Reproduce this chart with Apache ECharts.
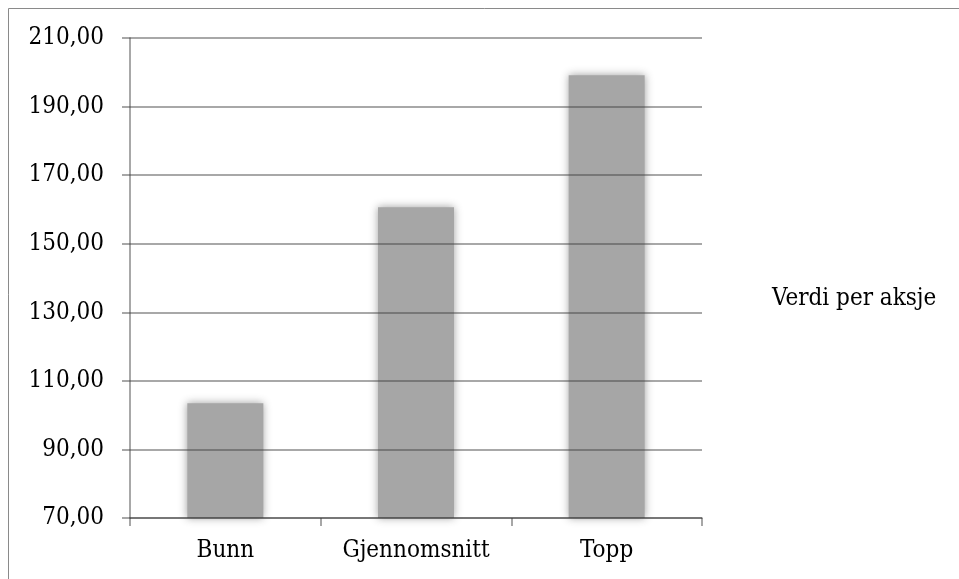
<!DOCTYPE html>
<html>
<head>
<meta charset="utf-8">
<script src="https://cdn.jsdelivr.net/npm/echarts@6/dist/echarts.min.js"></script>
<style>
  html, body { margin: 0; padding: 0; background: #ffffff; }
  #chart { width: 959px; height: 579px; }
</style>
</head>
<body>
<div id="chart"></div>
<script>
// Share value per category
const categories = ['Bunn', 'Gjennomsnitt', 'Topp'];
const values = [103.5, 160.6, 199.1];
const seriesName = 'Verdi per aksje';
const yMin = 70, yMax = 210, yStep = 20;

const fmt = v => v.toFixed(2).replace('.', ',');
const font = '"DejaVu Serif Condensed", "Liberation Serif", serif';
const fontSize = 24;
const lineColor = 'rgba(60,60,60,0.6)';

const chart = echarts.init(document.getElementById('chart'), null, { renderer: 'canvas' });
chart.setOption({
  animation: false,
  backgroundColor: '#ffffff',
  textStyle: { fontFamily: font },
  graphic: [{
    type: 'rect',
    shape: { x: 8.5, y: 8.5, width: 960, height: 600 },
    style: { fill: 'none', stroke: '#8a8a8a', lineWidth: 1 },
    silent: true
  }],
  grid: { left: 130, right: 257, top: 38, bottom: 61, containLabel: false },
  legend: {
    data: [seriesName],
    left: 767, top: 287,
    padding: 0,
    itemWidth: 0, itemHeight: 0,
    itemStyle: { opacity: 0 },
    textStyle: { fontFamily: font, fontSize: fontSize, color: '#000' }
  },
  xAxis: {
    type: 'category',
    data: categories,
    axisLine: { lineStyle: { color: lineColor, width: 1.5 } },
    axisTick: { show: true, interval: 0, length: 8, lineStyle: { color: lineColor, width: 1.5 } },
    axisLabel: { interval: 0, margin: 21, fontFamily: font, fontSize: fontSize, color: '#000' },
    splitLine: { show: false },
    z: 5
  },
  yAxis: {
    type: 'value',
    min: yMin, max: yMax, interval: yStep,
    axisLine: { show: true, lineStyle: { color: lineColor, width: 1.5 } },
    axisTick: { show: true, length: 8, lineStyle: { color: lineColor, width: 1.5 } },
    axisLabel: { margin: 26, fontFamily: font, fontSize: fontSize, color: '#000', formatter: fmt },
    splitLine: { show: true, lineStyle: { color: lineColor, width: 1.5 } },
    z: 5
  },
  series: [{
    name: seriesName,
    type: 'bar',
    data: values,
    barWidth: 76,
    itemStyle: {
      color: '#a6a6a6',
      shadowBlur: 8,
      shadowColor: 'rgba(150,150,150,0.9)'
    }
  }]
});
</script>
</body>
</html>
